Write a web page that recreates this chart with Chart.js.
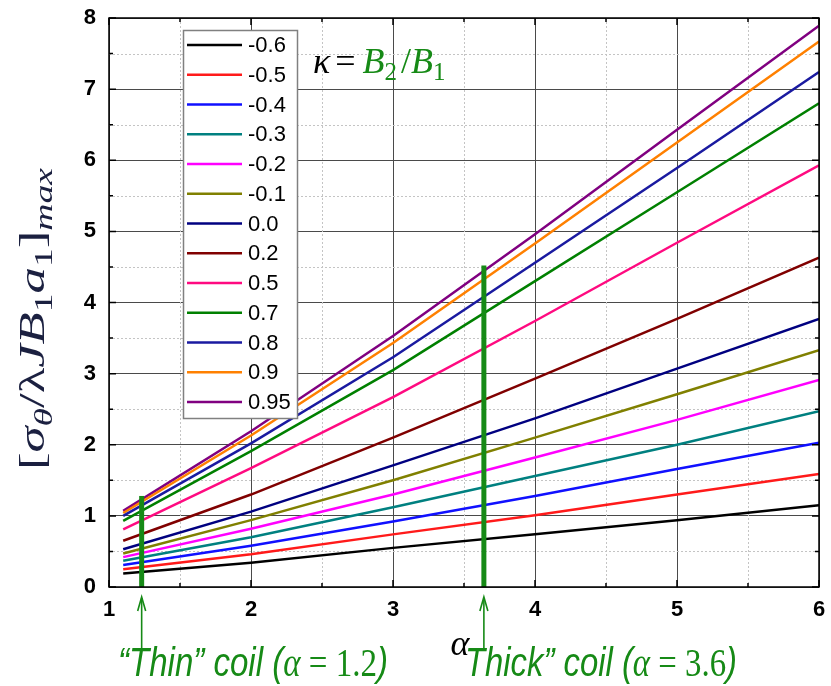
<!DOCTYPE html>
<html><head><meta charset="utf-8">
<script src="https://cdn.jsdelivr.net/npm/chart.js@4.4.0/dist/chart.umd.min.js"></script>
<style>html,body{margin:0;padding:0;background:#fff;}canvas{display:block;}</style>
</head><body>
<canvas id="c" width="831" height="686"></canvas>
<script>
// ---- data ----
const alphaValues = [1.1, 2, 3, 4, 5, 6];
const kappaLabels = ['-0.6','-0.5','-0.4','-0.3','-0.2','-0.1','0.0','0.2','0.5','0.7','0.8','0.9','0.95'];
const kM06 = [0.19, 0.34, 0.55, 0.74, 0.94, 1.15];
const kM05 = [0.25, 0.46, 0.74, 1.01, 1.30, 1.59];
const kM04 = [0.31, 0.58, 0.92, 1.28, 1.66, 2.03];
const kM03 = [0.37, 0.70, 1.12, 1.56, 2.00, 2.47];
const kM02 = [0.42, 0.82, 1.30, 1.82, 2.35, 2.91];
const kM01 = [0.47, 0.94, 1.50, 2.10, 2.71, 3.33];
const kP00 = [0.53, 1.06, 1.71, 2.37, 3.07, 3.77];
const kP02 = [0.65, 1.30, 2.10, 2.93, 3.77, 4.63];
const kP05 = [0.81, 1.67, 2.67, 3.74, 4.84, 5.93];
const kP07 = [0.93, 1.91, 3.05, 4.30, 5.55, 6.80];
const kP08 = [1.00, 2.02, 3.23, 4.56, 5.89, 7.24];
const kP09 = [1.04, 2.13, 3.43, 4.83, 6.25, 7.67];
const kP095 = [1.07, 2.19, 3.53, 4.96, 6.43, 7.89];
const seriesValues = [kM06,kM05,kM04,kM03,kM02,kM01,kP00,kP02,kP05,kP07,kP08,kP09,kP095];
const seriesColors = ['#000000','#ff1a1a','#1010ff','#008080','#ff00ff','#808000','#000080','#800000','#ff0a80','#008000','#1a1aa0','#ff8000','#800080'];
const xTickValues = [1,2,3,4,5,6];
const yTickValues = [0,1,2,3,4,5,6,7,8];
const coilX = [1.23, 3.64];
const coilTop = [1.28, 4.52];
const coilText = ['\u201CThin\u201D coil (', 'Thick\u201D coil ('];
const coilAlpha = ['1.2', '3.6'];
const GREEN = '#168a16';

const datasets = [];
coilX.forEach((x,i)=>{
  datasets.push({label:'coil'+i, data:[{x:x,y:0},{x:x,y:coilTop[i]}], borderColor:GREEN, borderWidth:5, pointRadius:0, order:0, borderCapStyle:'butt'});
});
seriesValues.forEach((vals,i)=>{
  datasets.push({label:kappaLabels[i], data:alphaValues.map((a,j)=>({x:a,y:vals[j]})), borderColor:seriesColors[i], borderWidth:2.5, pointRadius:0, tension:0, order:1});
});

const frame = {
  id:'frame',
  beforeDatasetsDraw(chart){
    const {ctx, chartArea:a, scales:{x,y}} = chart;
    ctx.save();
    ctx.strokeStyle='#c4c4c4'; ctx.lineWidth=1; ctx.setLineDash([2,2]);
    for(let v=1.5; v<6; v+=1){const p=Math.round(x.getPixelForValue(v))+0.5; ctx.beginPath(); ctx.moveTo(p,a.top); ctx.lineTo(p,a.bottom); ctx.stroke();}
    for(let v=0.5; v<8; v+=1){const p=Math.round(y.getPixelForValue(v))+0.5; ctx.beginPath(); ctx.moveTo(a.left,p); ctx.lineTo(a.right,p); ctx.stroke();}
    ctx.restore();
  },
  afterDatasetsDraw(chart){
    const {ctx, chartArea:a, scales:{x,y}} = chart;
    ctx.save();
    ctx.strokeStyle='#000'; ctx.lineWidth=1.5;
    ctx.strokeRect(a.left, a.top, a.right-a.left, a.bottom-a.top);
    ctx.lineWidth=1.5;
    for(let v=1; v<=6.001; v+=0.5){
      const L = (Math.abs(v-Math.round(v))<1e-6)?7:4;
      const p=x.getPixelForValue(v);
      ctx.beginPath(); ctx.moveTo(p,a.bottom); ctx.lineTo(p,a.bottom-L); ctx.moveTo(p,a.top); ctx.lineTo(p,a.top+L); ctx.stroke();
    }
    for(let v=0; v<=8.001; v+=0.5){
      const L = (Math.abs(v-Math.round(v))<1e-6)?7:4;
      const p=y.getPixelForValue(v);
      ctx.beginPath(); ctx.moveTo(a.left,p); ctx.lineTo(a.left+L,p); ctx.moveTo(a.right,p); ctx.lineTo(a.right-L,p); ctx.stroke();
    }
    // legend
    const lx=183, ly=30, lw=114, lh=388;
    ctx.fillStyle='#fff'; ctx.fillRect(lx,ly,lw,lh);
    ctx.strokeStyle='#808080'; ctx.lineWidth=1.5; ctx.strokeRect(lx+0.5,ly+0.5,lw,lh);
    ctx.font='22px "Liberation Sans", Arial, sans-serif'; ctx.textBaseline='middle'; ctx.textAlign='left';
    kappaLabels.forEach((lab,i)=>{
      const ry = 45 + i*29.75;
      ctx.strokeStyle=seriesColors[i]; ctx.lineWidth=2.5;
      ctx.beginPath(); ctx.moveTo(187,ry); ctx.lineTo(242,ry); ctx.stroke();
      ctx.fillStyle='#000'; ctx.fillText(lab, 248, ry+1);
    });
    ctx.restore();
  },
  afterDraw(chart){
    const {ctx, chartArea:a, scales:{x,y}} = chart;
    ctx.save();
    const serif='"Liberation Serif","DejaVu Serif",serif';
    // kappa annotation
    let cx=313, base=73, F=36;
    const seg=(t,font,color,dy)=>{ctx.font=font; ctx.fillStyle=color; ctx.fillText(t,cx,base+(dy||0)); cx+=ctx.measureText(t).width;};
    ctx.textBaseline='alphabetic'; ctx.textAlign='left';
    seg('\u03BA','italic '+F+'px '+serif,'#000');
    cx+=5; seg('=', F+'px '+serif,'#000'); cx+=7;
    seg('B','italic '+F+'px '+serif,GREEN);
    seg('2', Math.round(F*0.7)+'px '+serif,GREEN,7); cx+=4;
    seg('/', F+'px '+serif,GREEN);
    seg('B','italic '+F+'px '+serif,GREEN);
    seg('1', Math.round(F*0.7)+'px '+serif,GREEN,7);

    // y axis title (rotated)
    const parts=[['[',0,0,1],['\u03C3',1,0,1],['\u03B8',1,1,0.7],['/',0,0,1],['\u03BB',0,0,1],['J',1,0,1],['B',1,0,1],['1',0,1,0.7],['a',1,0,1],['1',0,1,0.7],[']',0,0,1],['max',1,1,0.7]];
    const TF=35;
    const fnt=p=>(p[1]?'italic ':'')+Math.round(TF*p[3])+'px '+serif;
    let total=0; parts.forEach(p=>{ctx.font=fnt(p); total+=ctx.measureText(p[0]).width;});
    const target=302, sc=target/total;
    ctx.save();
    ctx.translate(44, 319); ctx.rotate(-Math.PI/2); ctx.scale(sc,1);
    let tx=-total/2;
    parts.forEach(p=>{ctx.font=fnt(p); ctx.fillStyle='#1b2040'; ctx.fillText(p[0],tx,p[2]?8:0); tx+=ctx.measureText(p[0]).width;});
    ctx.restore();

    // x axis title
    ctx.font='italic 36px '+serif; ctx.fillStyle='#000'; ctx.textAlign='center';
    ctx.fillText('\u03B1', 460, 655);

    // coil arrows and captions
    const sans='"Liberation Sans Narrow","Liberation Sans",Arial,sans-serif';
    const capStart=[118,465], capWidth=[270,272];
    coilX.forEach((cv,i)=>{
      const px=x.getPixelForValue(cv);
      ctx.strokeStyle=GREEN; ctx.lineWidth=1.6;
      ctx.beginPath(); ctx.moveTo(px,598); ctx.lineTo(px,648); ctx.stroke();
      ctx.beginPath(); ctx.moveTo(px-4,611); ctx.lineTo(px,597); ctx.lineTo(px+4,611); ctx.stroke();
      const CF=40;
      const cps=[[coilText[i],'italic '+CF+'px '+sans],['\u03B1','italic '+CF+'px '+serif],[' = '+coilAlpha[i], CF+'px '+serif],[')','italic '+CF+'px '+sans]];
      let tw=0; cps.forEach(c=>{ctx.font=c[1]; tw+=ctx.measureText(c[0]).width;});
      const s=capWidth[i]/tw;
      ctx.save(); ctx.translate(capStart[i],676); ctx.scale(s,1);
      let ox=0; ctx.textAlign='left'; ctx.fillStyle=GREEN;
      cps.forEach(c=>{ctx.font=c[1]; ctx.fillText(c[0],ox,0); ox+=ctx.measureText(c[0]).width;});
      ctx.restore();
    });
    ctx.restore();
  }
};

const tickFont={family:'"Liberation Sans", Arial, sans-serif', size:22, weight:'bold'};
new Chart(document.getElementById('c'),{
  type:'line',
  data:{datasets},
  options:{
    responsive:false, animation:false, devicePixelRatio:1,
    layout:{padding:{left:0,right:12,top:18,bottom:0}},
    plugins:{legend:{display:false}, tooltip:{enabled:false}},
    scales:{
      x:{type:'linear', min:1, max:6,
        afterFit:s=>{s.height=99; s.paddingLeft=0; s.paddingRight=0;},
        afterBuildTicks:s=>{s.ticks=xTickValues.map(v=>({value:v}));},
        ticks:{color:'#000', font:tickFont, padding:10, maxRotation:0},
        grid:{color:'#4a4a4a', lineWidth:1, drawTicks:false},
        border:{display:false}
      },
      y:{type:'linear', min:0, max:8,
        afterFit:s=>{s.width=109; s.paddingTop=0; s.paddingBottom=0;},
        afterBuildTicks:s=>{s.ticks=yTickValues.map(v=>({value:v}));},
        ticks:{color:'#000', font:tickFont, padding:13},
        grid:{color:'#4a4a4a', lineWidth:1, drawTicks:false},
        border:{display:false}
      }
    }
  },
  plugins:[frame]
});
</script>
</body></html>
